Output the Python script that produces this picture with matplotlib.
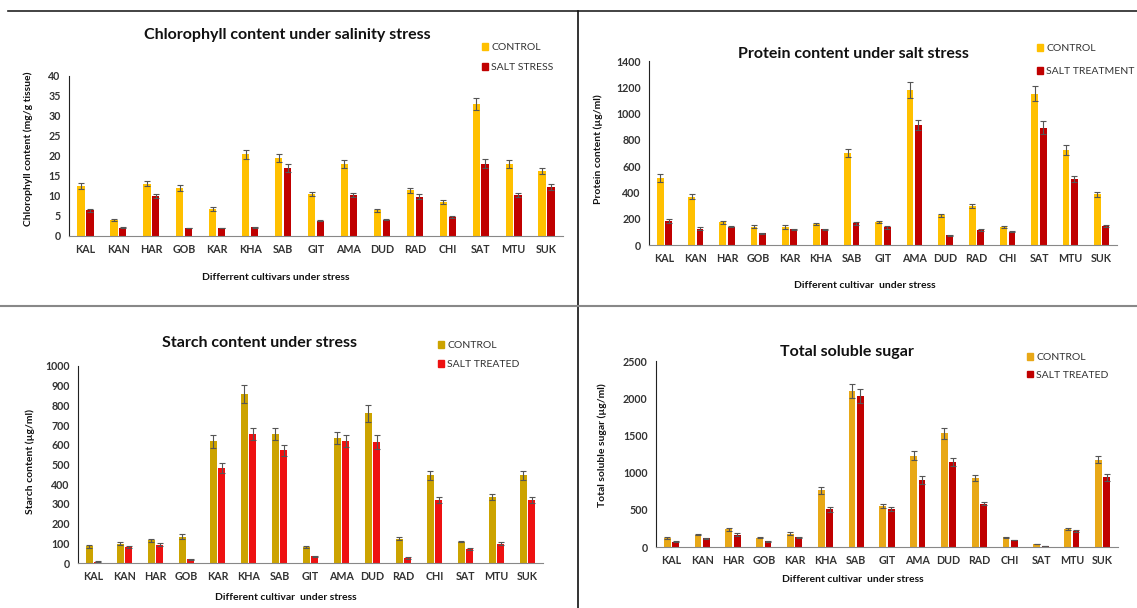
import matplotlib
matplotlib.use('Agg')
import matplotlib.pyplot as plt
from matplotlib.patches import Patch
from matplotlib.lines import Line2D
import numpy as np

plt.rcParams['font.family'] = ['Lato', 'DejaVu Sans']

# ============================================
# DATA
# ============================================
cultivars = ['KAL', 'KAN', 'HAR', 'GOB', 'KAR', 'KHA', 'SAB', 'GIT',
             'AMA', 'DUD', 'RAD', 'CHI', 'SAT', 'MTU', 'SUK']

chl_control = [12.5, 4.0, 13.1, 12.0, 6.7, 20.4, 19.6, 10.6, 18.1, 6.4, 11.4, 8.5, 33.0, 18.0, 16.3]
chl_salt = [6.4, 2.1, 10.0, 2.0, 2.0, 2.2, 17.0, 3.8, 10.2, 4.1, 9.8, 4.8, 18.1, 10.2, 12.3]
chl_control_err = [0.7, 0.3, 0.7, 0.7, 0.5, 1.1, 1.0, 0.5, 1.0, 0.4, 0.6, 0.5, 1.6, 0.9, 0.8]
chl_salt_err = [0.4, 0.1, 0.6, 0.1, 0.1, 0.1, 0.9, 0.1, 0.5, 0.2, 0.6, 0.2, 1.1, 0.5, 0.7]

prot_control = [507, 368, 173, 140, 140, 160, 698, 175, 1180, 226, 297, 140, 1150, 723, 386]
prot_salt = [183, 124, 140, 89, 119, 119, 165, 135, 914, 74, 114, 102, 893, 503, 145]
prot_control_err = [30, 20, 12, 10, 15, 10, 30, 10, 62, 10, 15, 8, 58, 35, 18]
prot_salt_err = [12, 12, 5, 4, 5, 4, 10, 10, 40, 3, 5, 4, 50, 22, 5]

starch_control = [84, 98, 115, 133, 617, 857, 656, 81, 636, 759, 123, 445, 108, 337, 445]
starch_salt = [7, 81, 93, 19, 482, 656, 573, 34, 621, 614, 25, 319, 71, 98, 319]
starch_control_err = [8, 8, 8, 12, 35, 45, 30, 3, 30, 45, 8, 22, 3, 15, 22]
starch_salt_err = [2, 3, 8, 2, 25, 30, 28, 3, 30, 35, 3, 15, 3, 8, 15]

sugar_control = [121, 166, 238, 126, 175, 763, 2096, 552, 1225, 1526, 929, 130, 40, 247, 1176]
sugar_salt = [72, 117, 162, 76, 130, 507, 2033, 507, 902, 1145, 583, 94, 13, 215, 938]
sugar_control_err = [8, 10, 18, 8, 20, 45, 100, 30, 60, 70, 40, 5, 5, 15, 50]
sugar_salt_err = [5, 8, 20, 5, 10, 35, 95, 25, 50, 50, 25, 5, 3, 8, 45]


def draw_panel(fig, rect, control, salt, c_err, s_err, colors, ymax, ystep,
               title, title_xy, ylabel, ylabel_xy, xlabel, xlabel_xy,
               legend_labels, legend_xy, legend_gap=1.1):
    ax = fig.add_axes(rect)
    x = np.arange(len(cultivars))
    w = 0.22
    err_kw = dict(ecolor='#555555', elinewidth=0.8, capsize=2.5, capthick=0.8)
    ax.bar(x - 0.135, control, w, yerr=c_err, color=colors[0], error_kw=err_kw)
    ax.bar(x + 0.135, salt, w, yerr=s_err, color=colors[1], error_kw=err_kw)
    ax.set_xlim(-0.5, 14.5)
    ax.set_ylim(0, ymax)
    ax.set_yticks(np.arange(0, ymax + ystep / 2, ystep))
    ax.set_xticks(x)
    ax.set_xticklabels(cultivars)
    ax.tick_params(length=0, labelsize=7.7, labelcolor='#333333', pad=6)
    for lab in ax.get_xticklabels() + ax.get_yticklabels():
        lab.set_fontweight('bold')
    ax.spines['top'].set_visible(False)
    ax.spines['right'].set_visible(False)
    ax.spines['left'].set_color('#222222')
    ax.spines['bottom'].set_color('#888888')
    ax.patch.set_alpha(0)

    fig.text(title_xy[0] / 1137, 1 - title_xy[1] / 608, title, ha='center', va='center',
             fontsize=11.5, fontweight='bold', color='#111111')
    fig.text(ylabel_xy[0] / 1137, 1 - ylabel_xy[1] / 608, ylabel, ha='center', va='center',
             rotation=90, fontsize=7.5, fontweight='bold', color='#111111')
    fig.text(xlabel_xy[0] / 1137, 1 - xlabel_xy[1] / 608, xlabel, ha='center', va='center',
             fontsize=7.5, fontweight='bold', color='#111111')

    handles = [Patch(color=colors[0]), Patch(color=colors[1])]
    fig.legend(handles, legend_labels, loc='upper left',
               bbox_to_anchor=(legend_xy[0] / 1137, 1 - legend_xy[1] / 608),
               frameon=False, fontsize=7.5, handlelength=0.6, handleheight=0.6,
               handletextpad=0.3, labelspacing=legend_gap, borderpad=0, borderaxespad=0,
               labelcolor='#333333')
    return ax


fig = plt.figure(figsize=(11.37, 6.08), dpi=100)

draw_panel(fig, [69 / 1137, 1 - 236 / 608, 494 / 1137, 160 / 608],
           chl_control, chl_salt, chl_control_err, chl_salt_err,
           ['#FFC000', '#C00000'], 40, 5,
           'Chlorophyll content under salinity stress', (287, 35),
           'Chlorophyll content (mg/g tissue)', (28, 149),
           'Differrent cultivars under stress', (276, 277),
           ['CONTROL', 'SALT STRESS'], (482, 43))

draw_panel(fig, [649 / 1137, 1 - 245 / 608, 468 / 1137, 184 / 608],
           prot_control, prot_salt, prot_control_err, prot_salt_err,
           ['#FFC000', '#C00000'], 1400, 200,
           'Protein content under salt stress', (853, 54),
           'Protein content (µg/ml)', (598, 149),
           'Different cultivar  under stress', (865, 285),
           ['CONTROL', 'SALT TREATMENT'], (1037, 44), legend_gap=1.35)

draw_panel(fig, [78 / 1137, 1 - 563 / 608, 465 / 1137, 197 / 608],
           starch_control, starch_salt, starch_control_err, starch_salt_err,
           ['#CCA300', '#EE1111'], 1000, 100,
           'Starch content under stress', (260, 343),
           'Starch content (µg/ml)', (30, 462),
           'Different cultivar  under stress', (286, 598),
           ['CONTROL', 'SALT TREATED'], (438, 341), legend_gap=0.95)

draw_panel(fig, [656 / 1137, 1 - 547 / 608, 462 / 1137, 186 / 608],
           sugar_control, sugar_salt, sugar_control_err, sugar_salt_err,
           ['#E8A817', '#C00000'], 2500, 500,
           'Total soluble sugar', (847, 352),
           'Total soluble sugar (µg/ml)', (602, 445),
           'Different cultivar  under stress', (853, 580),
           ['CONTROL', 'SALT TREATED'], (1027, 353), legend_gap=0.85)

# panel dividing lines
fig.add_artist(Line2D([8 / 1137, 1], [1 - 11 / 608, 1 - 11 / 608], color='#222222', lw=1.2))
fig.add_artist(Line2D([578 / 1137, 578 / 1137], [0, 1 - 11 / 608], color='#111111', lw=1.2))
fig.add_artist(Line2D([0, 1], [1 - 306 / 608, 1 - 306 / 608], color='#888888', lw=1.5))

fig.savefig('out.png', dpi=100)
